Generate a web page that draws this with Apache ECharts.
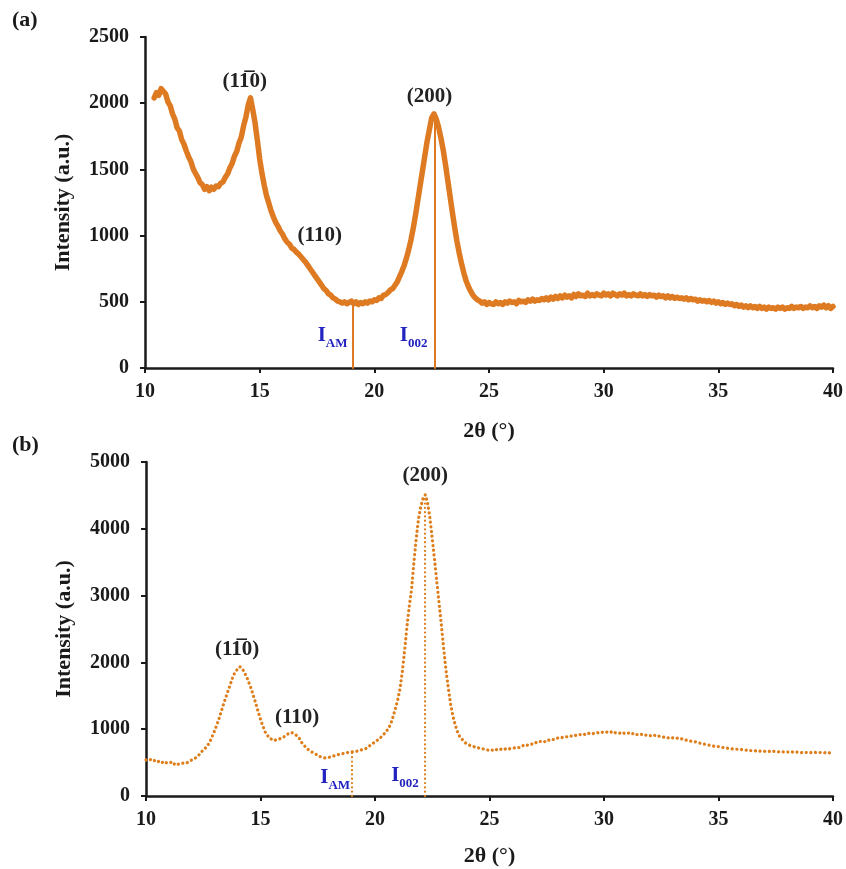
<!DOCTYPE html>
<html>
<head>
<meta charset="utf-8">
<script src="https://cdn.jsdelivr.net/npm/echarts@6/dist/echarts.min.js"></script>
<style>
  html, body { margin: 0; padding: 0; background: #fff; }
  #chart { width: 846px; height: 869px; }
</style>
</head>
<body>
<div id="chart"></div>
<script>
// ---- Diffraction scans (2θ grid: start + step) ----
const scanA = { start: 10.4, step: 0.1 };
const intensityA = [
  2040, 2080, 2060, 2110, 2090, 2070, 2010, 1980, 1920, 1880,
  1815, 1790, 1725, 1690, 1640, 1595, 1560, 1505, 1470, 1440,
  1400, 1385, 1350, 1370, 1340, 1365, 1350, 1375, 1370, 1395,
  1405, 1440, 1465, 1510, 1545, 1600, 1635, 1700, 1745, 1830,
  1895, 1985, 2040, 1950, 1850, 1720, 1580, 1470, 1380, 1300,
  1245, 1185, 1140, 1100, 1070, 1035, 1010, 975, 950, 935,
  905, 895, 875, 860, 840, 820, 800, 775, 750, 725,
  700, 675, 650, 625, 600, 585, 560, 550, 530, 520,
  505, 500, 490, 500, 485, 495, 505, 485, 500, 480,
  495, 485, 500, 490, 505, 500, 515, 510, 530, 525,
  550, 555, 570, 590, 600, 625, 650, 690, 730, 775,
  830, 895, 970, 1060, 1160, 1270, 1380, 1490, 1600, 1710,
  1800, 1890, 1920, 1880, 1820, 1740, 1650, 1540, 1420, 1300,
  1180, 1065, 960, 870, 790, 720, 660, 615, 580, 550,
  530, 515, 505, 490, 500, 480, 495, 485, 480, 500,
  485, 495, 480, 500, 490, 505, 495, 500, 485, 510,
  500, 505, 495, 515, 505, 520, 505, 515, 510, 525,
  515, 530, 515, 535, 520, 540, 525, 545, 530, 550,
  535, 545, 530, 555, 540, 560, 545, 550, 540, 565,
  545, 555, 545, 560, 550, 545, 565, 550, 560, 545,
  565, 555, 545, 560, 550, 565, 545, 555, 545, 560,
  550, 545, 560, 545, 555, 540, 555, 545, 550, 535,
  550, 540, 545, 530, 545, 530, 540, 525, 535, 525,
  530, 520, 530, 515, 525, 515, 520, 505, 515, 505,
  510, 500, 510, 495, 505, 490, 500, 485, 495, 480,
  490, 480, 485, 470, 480, 465, 475, 460, 470, 455,
  470, 455, 465, 450, 465, 450, 460, 445, 460, 450,
  455, 445, 460, 450, 460, 445, 455, 450, 465, 450,
  460, 455, 465, 450, 460, 455, 470, 455, 465, 450,
  470, 460, 475, 455, 470, 450, 465
];

const scanB = { start: 10.0, step: 0.1 };
const intensityB = [
  540, 530, 545, 520, 535, 510, 525, 500, 520, 495,
  490, 505, 470, 495, 475, 480, 490, 505, 500, 520,
  540, 555, 580, 610, 650, 690, 720, 760, 820, 900,
  980, 1070, 1170, 1280, 1390, 1490, 1590, 1690, 1790, 1860,
  1900, 1935, 1910, 1850, 1780, 1690, 1600, 1490, 1380, 1260,
  1150, 1050, 960, 910, 860, 850, 830, 845, 850, 865,
  880, 905, 930, 950, 945, 925, 900, 860, 800, 760,
  720, 690, 670, 645, 630, 610, 590, 580, 570, 575,
  580, 590, 600, 610, 620, 625, 635, 645, 650, 655,
  660, 665, 670, 680, 690, 700, 710, 735, 760, 785,
  810, 835, 860, 895, 930, 970, 1020, 1090, 1200, 1320,
  1450, 1620, 1880, 2200, 2550, 2850, 3100, 3500, 3850, 4150,
  4330, 4460, 4510, 4380, 4160, 3850, 3540, 3200, 2880, 2550,
  2200, 1880, 1620, 1380, 1200, 1070, 960, 890, 850, 810,
  780, 765, 750, 740, 730, 720, 715, 705, 700, 690,
  680, 690, 675, 695, 685, 700, 690, 705, 695, 710,
  715, 720, 730, 725, 745, 760, 750, 770, 780, 775,
  800, 795, 815, 820, 810, 840, 835, 850, 845, 860,
  870, 865, 880, 890, 885, 900, 895, 910, 905, 920,
  920, 930, 915, 935, 940, 930, 945, 950, 940, 955,
  950, 960, 945, 955, 970, 945, 950, 940, 955, 935,
  935, 945, 925, 940, 920, 920, 930, 910, 915, 900,
  905, 895, 910, 890, 895, 890, 880, 885, 870, 880,
  870, 860, 865, 850, 855, 840, 835, 830, 820, 815,
  810, 800, 790, 785, 775, 770, 760, 750, 745, 740,
  740, 730, 725, 720, 715, 710, 705, 700, 700, 695,
  695, 690, 685, 690, 680, 680, 675, 680, 670, 675,
  670, 665, 670, 660, 668, 665, 660, 668, 662, 660,
  660, 655, 662, 650, 658, 655, 648, 656, 650, 654,
  650, 646, 654, 648, 652, 650, 645, 652, 644, 648,
  645
];

// Crystallinity-index reference points: [2θ, intensity]
const dropA = [[19.07, 480], [22.62, 1920]];
const dropB = [[19.0, 660], [22.18, 4480]];

// Axis ticks
const xTicks = { min: 10, max: 40, interval: 5 };
const yTicksA = { min: 0, max: 2500, interval: 500 };
const yTicksB = { min: 0, max: 5000, interval: 1000 };

// Peak / index annotations: [2θ, intensity, text key]
const notesA = [[14.35, 2160, 'p1'], [22.41, 2050, 'p200'], [17.62, 1000, 'p110'], [18.18, 245, 'iam'], [21.71, 250, 'i002']];
const notesB = [[13.98, 2190, 'p1'], [22.19, 4800, 'p200'], [16.6, 1180, 'p110'], [18.26, 285, 'iam'], [21.31, 310, 'i002']];

const noteText = {
  p1: '{k|(1' + '1\u0305' + '0)}',
  p200: '{k|(200)}',
  p110: '{k|(110)}',
  iam: '{b|I}{s|AM}',
  i002: '{b|I}{s|002}'
};

function toPairs(scan, values) {
  return values.map((v, i) => [+(scan.start + i * scan.step).toFixed(2), v]);
}

const FONT = "'Liberation Serif', 'Times New Roman', serif";
const ORANGE_A = '#DE7A22';
const ORANGE_B = '#DE7E1A';
const BLUE = '#2323C0';
const INK = '#1a1a1a';

const richStyles = {
  k: { fontFamily: FONT, fontWeight: 'bold', fontSize: 21, color: '#222222', opacity: 1 },
  b: { fontFamily: FONT, fontWeight: 'bold', fontSize: 21, color: BLUE, verticalAlign: 'bottom', lineHeight: 22 },
  s: { fontFamily: FONT, fontWeight: 'bold', fontSize: 13, color: BLUE, verticalAlign: 'bottom', lineHeight: 22, padding: [0, 0, -4, 0] }
};

function xAxisDef(gridIndex, gap) {
  return {
    type: 'value', gridIndex, min: xTicks.min, max: xTicks.max, interval: xTicks.interval,
    name: '2θ (°)', nameLocation: 'middle', nameGap: gap,
    nameTextStyle: { fontFamily: FONT, fontWeight: 'bold', fontSize: 22, color: INK },
    axisLine: { lineStyle: { color: INK, width: 2.5 } },
    axisTick: { show: true, inside: false, length: 5, lineStyle: { color: INK, width: 2 } },
    axisLabel: { fontFamily: FONT, fontWeight: 'bold', fontSize: 20, color: INK, margin: 14 },
    splitLine: { show: false }
  };
}

function yAxisDef(gridIndex, ticks) {
  return {
    type: 'value', gridIndex, min: ticks.min, max: ticks.max, interval: ticks.interval,
    name: 'Intensity (a.u.)', nameLocation: 'middle', nameGap: 71, nameRotate: 90,
    nameTextStyle: { fontFamily: FONT, fontWeight: 'bold', fontSize: 22, color: INK },
    axisLine: { show: true, lineStyle: { color: INK, width: 2.5 } },
    axisTick: { show: true, inside: false, length: 5, lineStyle: { color: INK, width: 2 } },
    axisLabel: { fontFamily: FONT, fontWeight: 'bold', fontSize: 20, color: INK, margin: 16, formatter: v => String(v) },
    splitLine: { show: false }
  };
}

function dropLines(points, color, type, width) {
  return {
    symbol: 'none', silent: true, animation: false,
    label: { show: false },
    lineStyle: { color, width, type, cap: 'round', opacity: 1 },
    data: points.map(p => [{ coord: [p[0], 0] }, { coord: [p[0], p[1]] }])
  };
}

function noteSeries(idx, notes) {
  return {
    type: 'scatter', xAxisIndex: idx, yAxisIndex: idx, silent: true,
    symbolSize: 0, itemStyle: { color: '#000', opacity: 1 }, z: 5,
    data: notes.map(n => ({ value: [n[0], n[1]], key: n[2] })),
    label: {
      show: true, position: 'inside', color: '#222', opacity: 1,
      textBorderWidth: 0,
      formatter: p => noteText[p.data.key],
      rich: richStyles
    }
  };
}

const chart = echarts.init(document.getElementById('chart'), null, { renderer: 'canvas' });
chart.setOption({
  animation: false,
  backgroundColor: '#ffffff',
  grid: [
    { left: 145, right: 12, top: 37, height: 331 },
    { left: 146, right: 12, top: 462, height: 334 }
  ],
  xAxis: [xAxisDef(0, 52), xAxisDef(1, 49)],
  yAxis: [yAxisDef(0, yTicksA), yAxisDef(1, yTicksB)],
  graphic: [
    { type: 'text', left: 12, top: 9, style: { text: '(a)', font: "bold 22px 'Liberation Serif', serif", fill: INK } },
    { type: 'text', left: 12, top: 434, style: { text: '(b)', font: "bold 22px 'Liberation Serif', serif", fill: INK } }
  ],
  series: [
    {
      type: 'line', xAxisIndex: 0, yAxisIndex: 0, showSymbol: false, smooth: false,
      data: toPairs(scanA, intensityA),
      lineStyle: { color: ORANGE_A, width: 5.5, join: 'round', cap: 'round' },
      markLine: dropLines(dropA, ORANGE_A, 'solid', 2)
    },
    {
      type: 'line', xAxisIndex: 1, yAxisIndex: 1, showSymbol: false, smooth: false,
      data: toPairs(scanB, intensityB),
      lineStyle: { color: ORANGE_B, width: 3.2, type: [0.1, 4.6], cap: 'round', join: 'round' },
      markLine: dropLines(dropB, ORANGE_B, [0.1, 4.2], 2.2)
    },
    noteSeries(0, notesA),
    noteSeries(1, notesB)
  ]
});
</script>
</body>
</html>
